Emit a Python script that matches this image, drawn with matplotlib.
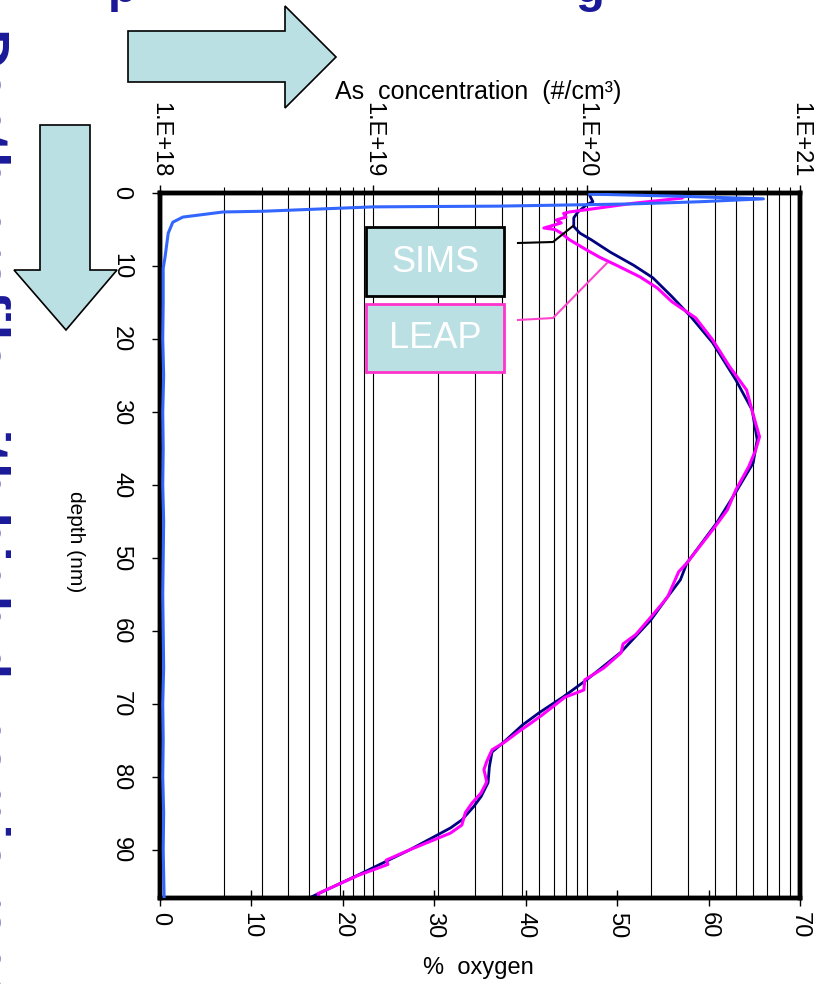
import numpy as np
import matplotlib
matplotlib.use("Agg")
import matplotlib.pyplot as plt
from matplotlib.patches import Polygon, Rectangle
from matplotlib.lines import Line2D

plt.rcParams['font.family'] = ['Liberation Sans Narrow', 'Liberation Sans', 'DejaVu Sans']

#======================
# 1. DATA
#======================
# oxygen profile, % (bottom axis)
oxy_depth = [0.15, 0.45, 0.8, 1.2, 1.5, 1.8, 1.9, 2.5, 2.6, 3.3, 4.0, 5.5, 8.8, 10.3,
             15, 20, 25, 30, 35, 40, 45, 50, 55, 60, 65, 70, 75, 80, 85, 90, 96.6]
oxy_pct = [47.0, 57.0, 66.0, 59.0, 51.5, 37.0, 23.3, 11.3, 6.9, 2.5, 1.4, 0.9, 0.55, 0.35,
           0.35, 0.3, 0.4, 0.3, 0.35, 0.3, 0.4, 0.35, 0.3, 0.35, 0.4, 0.3, 0.35, 0.3, 0.4, 0.35, 0.45]

# SIMS As concentration (#/cm3)
sims_depth = [0.0, 1.2, 1.6, 2.6, 3.4, 4.6, 5.5, 6.4, 8.1, 9.9, 11.6, 14.2, 17.0, 20.5,
              25.6, 29.7, 33.8, 37.0, 41.0, 45.2, 50.7, 53.0, 55.3, 58.5, 62.9, 66.7,
              69.0, 71.2, 72.9, 75.2, 76.6, 78.6, 80.8, 82.7, 84.1, 85.9, 87.0, 90.0,
              93.3, 96.6]
sims_conc = [1.02e20, 1.07e20, 1.0e20, 9.1e19, 8.7e19, 8.7e19, 9.3e19, 1.05e20, 1.29e20,
             1.66e20, 2.04e20, 2.51e20, 3.09e20, 3.89e20, 5.0e20, 5.96e20, 6.3e20, 6.03e20,
             5.0e20, 4.07e20, 2.95e20, 2.75e20, 2.4e20, 2.0e20, 1.45e20, 1.0e20, 7.8e19,
             6.0e19, 5.0e19, 4.1e19, 3.6e19, 3.5e19, 3.45e19, 3.2e19, 2.95e19, 2.6e19,
             2.3e19, 1.48e19, 8.7e18, 5.0e18]

# LEAP As concentration (#/cm3)
leap_depth = [0.3, 0.7, 1.4, 2.2, 2.6, 2.8, 3.3, 3.7, 4.1, 4.8, 5.0, 5.5, 6.4, 7.8, 8.8,
              9.9, 11.5, 13.0, 14.9, 17.1, 20.1, 23.8, 27.0, 30.1, 33.4, 35.2, 37.5,
              40.7, 43.4, 45.8, 50.7, 51.9, 55.3, 56.4, 58.1, 60.5, 61.8, 63.0, 65.1,
              66.7, 68.1, 69.1, 71.5, 72.6, 73.8, 75.3, 76.3, 77.9, 79.0, 80.7, 82.2,
              83.6, 84.9, 86.6, 87.7, 90.0, 91.4, 92.0, 93.5, 95.5, 96.0, 96.6]
leap_conc = [2.9e20, 2.8e20, 1.66e20, 1.05e20, 8.3e19, 7.8e19, 8.0e19, 7.2e19, 7.6e19,
             6.3e19, 7.1e19, 7.6e19, 8.3e19, 1.0e20, 1.15e20, 1.38e20, 1.78e20, 2.14e20,
             2.51e20, 3.24e20, 3.89e20, 4.68e20, 5.62e20, 6.0e20, 6.46e20, 6.2e20, 5.75e20,
             5.0e20, 4.57e20, 3.98e20, 2.95e20, 2.7e20, 2.4e20, 2.24e20, 2.0e20, 1.7e20,
             1.48e20, 1.45e20, 1.2e20, 9.8e19, 9.7e19, 7.9e19, 6.2e19, 5.5e19, 4.8e19,
             4.1e19, 3.6e19, 3.4e19, 3.3e19, 3.4e19, 3.2e19, 2.9e19, 2.7e19, 2.6e19,
             2.3e19, 1.48e19, 1.15e19, 1.17e19, 8.5e18, 6.0e18, 5.5e18, 5.6e18]

conc_ticks = [1e18, 1e19, 1e20, 1e21]
conc_labels = ["1.E+18", "1.E+19", "1.E+20", "1.E+21"]
oxy_ticks = list(range(0, 80, 10))
depth_ticks = list(range(0, 100, 10))

#======================
# 2. FIGURE
#======================
W, H = 831, 984
fig = plt.figure(figsize=(W / 100, H / 100), dpi=100)

def px(x, y):
    return (x / W, 1 - y / H)

ax = fig.add_axes([160 / W, 1 - 898 / H, 640 / W, 705 / H])
ax2 = ax.twiny()
ax.set_zorder(ax2.get_zorder() + 1)
ax.patch.set_visible(False)

# concentration (top, log)
ax2.set_xscale('log')
ax2.set_xlim(1e18, 1e21)
ax2.plot(sims_conc, sims_depth, color='#000080', lw=2.0, zorder=3)
ax2.plot(leap_conc, leap_depth, color='#FF00FF', lw=2.2, zorder=4)
ax2.grid(True, which='both', axis='x', color='black', lw=0.8)
ax2.set_xticks(conc_ticks)
ax2.set_xticklabels(conc_labels, rotation=270, fontsize=17)
ax2.tick_params(axis='x', which='major', direction='out', length=6, width=1, pad=5)
ax2.tick_params(axis='x', which='minor', direction='out', length=4, width=0.8)

# oxygen (bottom, linear)
ax.plot(oxy_pct, oxy_depth, color='#3366FF', lw=2.2, zorder=5)
ax.set_xlim(0, 70)
ax.set_ylim(96.6, 0)
ax.set_xticks(oxy_ticks)
ax.set_xticklabels([str(t) for t in oxy_ticks], rotation=270, fontsize=17)
ax.set_yticks(depth_ticks)
ax.set_yticklabels([str(t) for t in depth_ticks], rotation=270, fontsize=17, va='center')
ax.tick_params(axis='x', direction='inout', length=12, width=1, pad=4)
ax.tick_params(axis='y', direction='out', length=6, width=1, pad=14)

for a in (ax, ax2):
    for s in a.spines.values():
        s.set_linewidth(3.2)
        s.set_color('black')

fig.text(*px(478, 92), "As  concentration  (#/cm³)", ha='center', va='center', fontsize=18)
fig.text(*px(478, 968), "%  oxygen", ha='center', va='center', fontsize=17)
fig.text(*px(75, 542), "depth (nm)", ha='center', va='center', rotation=270, fontsize=15)

#======================
# 3. CALLOUTS
#======================
box_fill = '#BBE0E3'
sims_box = Rectangle(px(366, 296), 138 / W, 69 / H, transform=fig.transFigure,
                     facecolor=box_fill, edgecolor='black', lw=2)
leap_box = Rectangle(px(366, 372), 138 / W, 68 / H, transform=fig.transFigure,
                     facecolor=box_fill, edgecolor='#FF33CC', lw=2)
fig.add_artist(sims_box)
fig.add_artist(leap_box)
fig.text(*px(435, 262), "SIMS", color='white', ha='center', va='center', fontsize=26,
         family=['Liberation Sans', 'DejaVu Sans'])
fig.text(*px(435, 338), "LEAP", color='white', ha='center', va='center', fontsize=26,
         family=['Liberation Sans', 'DejaVu Sans'])

sx, sy = zip(px(518, 243), px(553, 242), px(573, 226))
fig.add_artist(Line2D(sx, sy, transform=fig.transFigure, color='black', lw=1.5))
lx, ly = zip(px(518, 320), px(553, 318), px(607, 263))
fig.add_artist(Line2D(lx, ly, transform=fig.transFigure, color='#FF44CC', lw=1.5))

#======================
# 4. SLIDE DECORATIONS
#======================
arrow_fill = '#BBE0E3'
right_arrow = [px(128, 31), px(285, 31), px(285, 6), px(336, 57), px(285, 108),
               px(285, 82), px(128, 82)]
down_arrow = [px(40, 125), px(90, 125), px(90, 270), px(117, 270), px(66, 330),
              px(14, 270), px(40, 270)]
for pts in (right_arrow, down_arrow):
    fig.add_artist(Polygon(pts, closed=True, transform=fig.transFigure,
                           facecolor=arrow_fill, edgecolor='black', lw=1.2))

title_col = '#1A1A99'
fig.text(*px(122, 2), "p", color=title_col, fontsize=34, fontweight='bold',
         ha='center', va='baseline', family=['Liberation Sans', 'DejaVu Sans'])
fig.text(*px(590, 2), "g", color=title_col, fontsize=34, fontweight='bold',
         ha='center', va='baseline', family=['Liberation Sans', 'DejaVu Sans'])
fig.text(*px(-16, 28), "Depth profile with high dynamic range, compared with SIMS",
         color=title_col, fontsize=40, fontweight='bold', rotation=270,
         ha='center', va='top', family=['Liberation Sans', 'DejaVu Sans'])

fig.savefig("out.png", dpi=100)
